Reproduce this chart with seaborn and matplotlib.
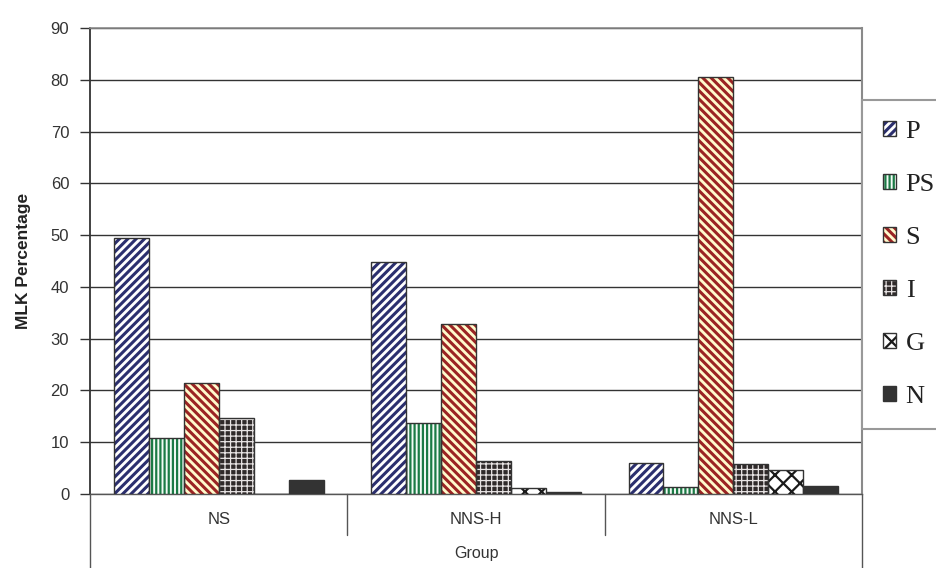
import matplotlib
matplotlib.use("Agg")
import matplotlib.pyplot as plt
import matplotlib.transforms as mtransforms
from matplotlib.patches import Rectangle, Patch
import seaborn as sns
import pandas as pd

# ---- data ----
groups = ["NS", "NNS-H", "NNS-L"]
series = ["P", "PS", "S", "I", "G", "N"]
p_vals = [49.5, 44.9, 6.0]
ps_vals = [10.8, 13.8, 1.3]
s_vals = [21.5, 32.8, 80.5]
i_vals = [14.7, 6.4, 5.8]
g_vals = [0.0, 1.1, 4.6]
n_vals = [2.7, 0.3, 1.6]
y_ticks = [0, 10, 20, 30, 40, 50, 60, 70, 80, 90]
y_label = "MLK Percentage"
x_label = "Group"

values = {"P": p_vals, "PS": ps_vals, "S": s_vals, "I": i_vals, "G": g_vals, "N": n_vals}
rows = []
for s in series:
    for g, v in zip(groups, values[s]):
        rows.append({"Group": g, "Series": s, "Value": v})
df = pd.DataFrame(rows)

# ---- style ----
sns.set_theme(style="white")
plt.rcParams['font.family'] = ['Liberation Sans', 'DejaVu Sans']
plt.rcParams['hatch.linewidth'] = 2.0

styles = {
    "P":  dict(face="white",   hcol="#2b2f6e", hatch="////",     hlw=2.2),
    "PS": dict(face="#f4fbf6", hcol="#1b7a45", hatch="||||",     hlw=1.6),
    "S":  dict(face="#fffacc", hcol="#9b2424", hatch="\\\\\\\\", hlw=2.2),
    "I":  dict(face="#2f2a2a", hcol="#e8e4e4", hatch="+++",      hlw=0.9),
    "G":  dict(face="white",   hcol="#1a1a1a", hatch="xx",       hlw=1.6),
    "N":  dict(face="#333333", hcol="#333333", hatch=None,       hlw=1.0),
}
hatch_lw = {st["hatch"]: st["hlw"] for st in styles.values() if st["hatch"]}
outline = "#333333"

fig = plt.figure(figsize=(9.36, 5.68), dpi=100, facecolor="white")
ax = fig.add_axes([0.0962, 0.1303, 0.8248, 0.8204])

sns.barplot(data=df, x="Group", y="Value", hue="Series", order=groups,
            hue_order=series, width=0.815, ax=ax, legend=False,
            errorbar=None, saturation=1)


def style_patch(p, st):
    p.set_facecolor(st["face"])
    p.set_edgecolor(st["hcol"])
    p.set_linewidth(0)
    if st["hatch"]:
        p.set_hatch(st["hatch"])
        if hasattr(p, "set_hatch_linewidth"):
            p.set_hatch_linewidth(st["hlw"])


for s, cont in zip(series, ax.containers):
    st = styles[s]
    for bar in cont:
        style_patch(bar, st)
        bar.set_zorder(3)
        ax.add_patch(Rectangle(bar.get_xy(), bar.get_width(), bar.get_height(),
                               fill=False, edgecolor=outline, linewidth=1.0,
                               zorder=4))

# ---- axes ----
ax.set_xlim(-0.5, 2.5)
ax.set_ylim(0, 90)
ax.set_yticks(y_ticks)
ax.yaxis.grid(True, color="#333333", linewidth=1.0, zorder=0)
ax.set_axisbelow(True)
ax.xaxis.grid(False)

for side, col, lw in [("left", "#333333", 1.3), ("top", "#8a8a8a", 1.2),
                      ("right", "#8a8a8a", 1.5), ("bottom", "#555555", 1.0)]:
    ax.spines[side].set_visible(True)
    ax.spines[side].set_color(col)
    ax.spines[side].set_linewidth(lw)

ax.tick_params(axis="y", length=7, width=1, color="#333333", pad=8,
               labelsize=12, labelcolor="#333333", left=True, direction="out")
ax.tick_params(axis="x", length=0, pad=13, labelsize=12, labelcolor="#333333")

ax.set_ylabel(y_label, fontsize=12.5, fontweight="bold", color="#222222")
ax.yaxis.set_label_coords(-0.077, 0.5)
ax.set_xlabel(x_label, fontsize=11.5, color="#333333")
ax.xaxis.set_label_coords(0.5, -0.112)

# category "table" separators under the x axis
trans = mtransforms.blended_transform_factory(ax.transData, ax.transAxes)
for xb in [0.5, 1.5]:
    ax.plot([xb, xb], [0, -0.088], transform=trans, color="#555555",
            linewidth=1.0, clip_on=False)
for xb in [-0.5, 2.5]:
    ax.plot([xb, xb], [0, -0.2], transform=trans, color="#555555",
            linewidth=1.0, clip_on=False)

# ---- legend ----
handles = []
for s in series:
    st = styles[s]
    hp = Patch(facecolor=st["face"], edgecolor=st["hcol"], hatch=st["hatch"],
               linewidth=0)
    op = Patch(fill=False, edgecolor=outline, linewidth=1.0)
    handles.append((hp, op))

leg = ax.legend(handles, series, loc="upper left", bbox_to_anchor=(1.0, 0.845),
                borderaxespad=0, frameon=True, fancybox=False, framealpha=1,
                prop={"family": ["Liberation Serif", "DejaVu Serif"], "size": 19},
                handlelength=0.5, handleheight=0.5, handletextpad=0.35,
                labelspacing=1.17, borderpad=0.8)
leg.get_frame().set_edgecolor("#999999")
leg.get_frame().set_linewidth(1.5)
for t in leg.get_texts():
    t.set_color("#222222")
for p in leg.findobj(Rectangle):
    h = p.get_hatch()
    if h in hatch_lw and hasattr(p, "set_hatch_linewidth"):
        p.set_hatch_linewidth(hatch_lw[h])

fig.savefig("out.png", dpi=100, facecolor="white")
